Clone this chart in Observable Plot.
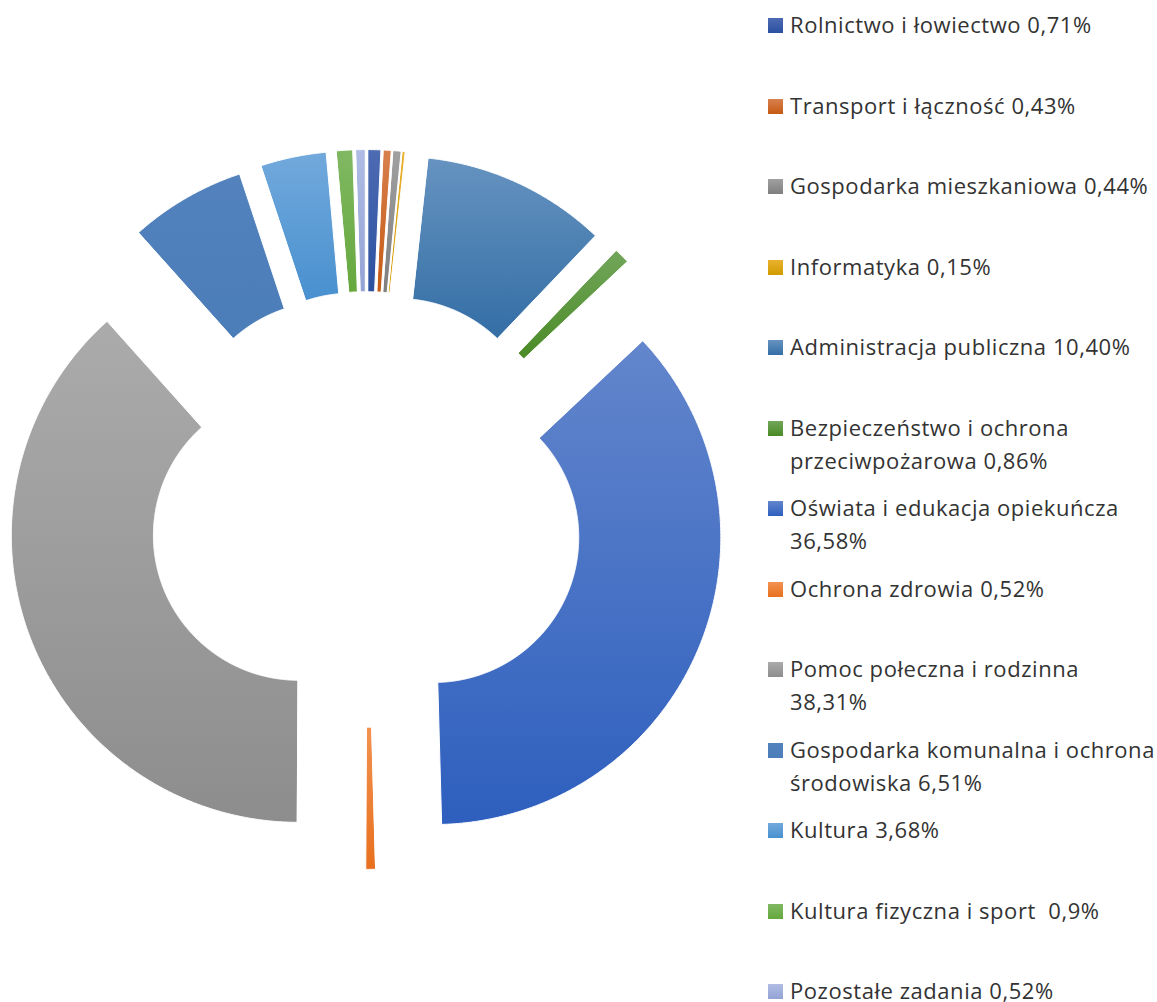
<!DOCTYPE html>
<html><head><meta charset="utf-8">
<script src="https://cdn.jsdelivr.net/npm/d3@7"></script>
<script src="https://cdn.jsdelivr.net/npm/@observablehq/plot@0.6"></script>
<style>
body{margin:0;background:#fff;}
#wrap{position:relative;width:1157px;height:1002px;overflow:hidden;}
#chart{position:absolute;left:0;top:0;}
#legend{position:absolute;left:0;top:0;width:1157px;height:1002px;font-family:"Open Sans", sans-serif;font-size:22px;letter-spacing:0.55px;color:#333;}
.item{position:absolute;left:790px;line-height:33px;white-space:pre;}
.sw{position:absolute;left:-22px;top:10px;width:15px;height:15px;}
</style></head><body><div id="wrap"><div id="chart"></div><div id="legend"></div></div>
<script>
const categories = [
  "Rolnictwo i łowiectwo",
  "Transport i łączność",
  "Gospodarka mieszkaniowa",
  "Informatyka",
  "Administracja publiczna",
  "Bezpieczeństwo i ochrona przeciwpożarowa",
  "Oświata i edukacja opiekuńcza",
  "Ochrona zdrowia",
  "Pomoc połeczna i rodzinna",
  "Gospodarka komunalna i ochrona środowiska",
  "Kultura",
  "Kultura fizyczna i sport ",
  "Pozostałe zadania"
];
const values = [0.71, 0.43, 0.44, 0.15, 10.40, 0.86, 36.58, 0.52, 38.31, 6.51, 3.68, 0.9, 0.52];
const valueLabels = ["0,71%", "0,43%", "0,44%", "0,15%", "10,40%", "0,86%", "36,58%", "0,52%", "38,31%", "6,51%", "3,68%", "0,9%", "0,52%"];
// number of words on the first legend line (0 = single line)
const firstLineWords = [0, 0, 0, 0, 0, 3, 4, 0, 4, 4, 0, 0, 0];
const topColors = ["#4d6bb3", "#d8804e", "#a0a0a0", "#eab22e", "#6693c0", "#72a65a", "#6386cc", "#f29250", "#ababab", "#5382bd", "#72a9dc", "#80b862", "#b0bce4"];
const bottomColors = ["#2b50a0", "#c55a12", "#7f7f7f", "#d09a00", "#336ea5", "#4a8a26", "#2e5fbe", "#e8701e", "#8d8d8d", "#4b7db9", "#4890cf", "#66a83d", "#93a3d4"];

const data = categories.map((name, i) => ({name, value: values[i], i}));
const arcs = d3.pie().sort(null).value(d => d.value)(data);

const R = 1, r = 0.505, explode = 0.254;
function slicePoints(a) {
  const mid = (a.startAngle + a.endAngle) / 2;
  const ox = explode * Math.sin(mid), oy = explode * Math.cos(mid);
  const n = Math.max(2, Math.ceil((a.endAngle - a.startAngle) / 0.005));
  const pts = [];
  for (let k = 0; k <= n; k++) {
    const t = a.startAngle + (a.endAngle - a.startAngle) * k / n;
    pts.push({x: ox + R * Math.sin(t), y: oy + R * Math.cos(t), name: a.data.name});
  }
  for (let k = n; k >= 0; k--) {
    const t = a.startAngle + (a.endAngle - a.startAngle) * k / n;
    pts.push({x: ox + r * Math.sin(t), y: oy + r * Math.cos(t), name: a.data.name});
  }
  return pts;
}

const W = 760, H = 1002, cxPx = 366, cyPx = 509, Rpx = 287;
const plot = Plot.plot({
  width: W, height: H,
  margin: 0,
  x: {domain: [-cxPx / Rpx, (W - cxPx) / Rpx], axis: null},
  y: {domain: [-(H - cyPx) / Rpx, cyPx / Rpx], axis: null},
  marks: arcs.map((a, i) => Plot.line(slicePoints(a), {
    x: "x", y: "y",
    curve: "linear-closed",
    fill: `url(#grad${i})`,
    stroke: "white",
    strokeWidth: 1
  }))
});

const defs = d3.select(plot).insert("defs", ":first-child");
data.forEach((d, i) => {
  const g = defs.append("linearGradient").attr("id", `grad${i}`)
    .attr("x1", 0).attr("y1", 0).attr("x2", 0).attr("y2", 1);
  g.append("stop").attr("offset", "0%").attr("stop-color", topColors[i]);
  g.append("stop").attr("offset", "100%").attr("stop-color", bottomColors[i]);
});
document.getElementById("chart").appendChild(plot);

const legend = d3.select("#legend");
data.forEach((d, i) => {
  const full = `${d.name} ${valueLabels[i]}`;
  let text = full;
  if (firstLineWords[i] > 0) {
    const words = full.split(" ");
    text = words.slice(0, firstLineWords[i]).join(" ") + "\n" + words.slice(firstLineWords[i]).join(" ");
  }
  const item = legend.append("div").attr("class", "item")
    .style("top", `${8.3 + 80.5 * i}px`);
  item.append("span").attr("class", "sw")
    .style("background", `linear-gradient(to bottom, ${topColors[i]}, ${bottomColors[i]})`);
  item.append("span").text(text);
});
</script>
</body></html>
